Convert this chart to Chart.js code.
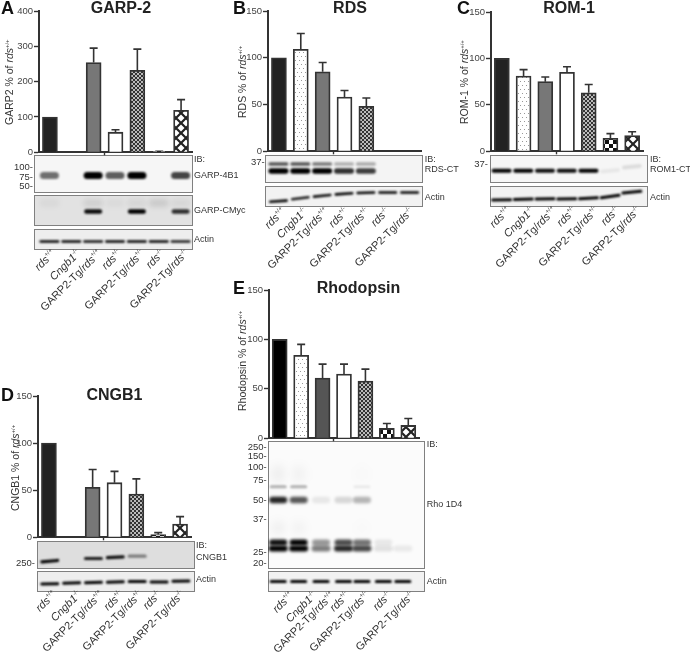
<!DOCTYPE html>
<html>
<head>
<meta charset="utf-8">
<script src="https://cdn.jsdelivr.net/npm/chart.js@4"></script>
<style>
  html, body { margin: 0; background: #fff; }
  #page { position: relative; width: 690px; height: 652px; overflow: hidden; font-family: "Liberation Sans", Arial, sans-serif; color: #333; filter: blur(0.35px); }
  #page canvas, .blot, .txt { position: absolute; }
  .txt { white-space: nowrap; line-height: 1; }
  .txt sup { font-size: 56%; line-height: 0; }
  .blot { box-sizing: border-box; border: 1.5px solid #808080; }
</style>
</head>
<body>
<div id="page"></div>
<script>
// categories, same order in every panel
let categories = ["rds+/+", "Cngb1-/-", "GARP2-Tg/rds+/+", "rds+/-", "GARP2-Tg/rds+/-", "rds-/-", "GARP2-Tg/rds-/-"];

// bar heights and top of error bars
let garp2Values = [100, 0, 254, 57, 232, 2, 119];
let garp2Err = [null, null, 295, 64, 292, 3, 149];
let garp2Ticks = [0, 100, 200, 300, 400];

let rdsValues = [100, 109, 85, 58, 48, 0, 0];
let rdsErr = [null, 126, 95, 65, 57, null, null];
let rdsTicks = [0, 50, 100, 150];

let rom1Values = [100, 81, 75, 85, 63, 14, 17];
let rom1Err = [null, 88, 80, 91, 72, 19, 21];
let rom1Ticks = [0, 50, 100, 150];

let cngb1Values = [100, 0, 53, 58, 46, 3, 14];
let cngb1Err = [null, null, 72, 70, 62, 5, 22];
let cngb1Ticks = [0, 50, 100, 150];

let rhoValues = [100, 84, 61, 65, 58, 10, 13];
let rhoErr = [null, 95, 75, 75, 70, 15, 20];
let rhoTicks = [0, 50, 100, 150];

// band darkness per lane on the blots
let garp4b1Bands = [0.55, 0, 1, 0.62, 1, 0, 0.72];
let garpCmycBands = [0, 0, 0.95, 0, 1, 0, 0.8];
let garpCmycFaint = [0.04, 0, 0.08, 0.03, 0.05, 0.1, 0.05];
let garpActinBands = [1, 1, 0.95, 1, 1, 1, 0.9];
let rdsUpperBands = [0.65, 0.65, 0.5, 0.28, 0.3, 0, 0];
let rdsLowerBands = [1, 1, 1, 0.8, 0.75, 0, 0];
let rdsActinBands = [1, 0.9, 0.95, 1, 1, 1, 1];
let rom1Bands = [1, 1, 0.95, 0.95, 1, 0.06, 0.1];
let rom1ActinBands = [1, 1, 1, 1, 1, 1, 1];
let cngb1Bands = [1, 0, 0.9, 0.95, 0.45, 0, 0];
let cngb1ActinBands = [1, 1, 1, 1, 1, 1, 1];
let rhoSmear = [0.05, 0.04, 0, 0, 0.01, 0, 0];
let rho75Bands = [0.3, 0.3, 0, 0, 0.07, 0, 0];
let rho50Bands = [0.85, 0.65, 0.08, 0.14, 0.28, 0, 0];
let rho30Bands = [0.95, 1, 0.4, 0.7, 0.55, 0.08, 0];
let rho25Bands = [1, 1, 0.5, 0.85, 0.72, 0.1, 0.07];
let rhoActinBands = [1, 1, 1, 1, 1, 1, 1];

let page = document.getElementById("page");

function addText(html, x, y, style, transform) {
  let el = document.createElement("div");
  el.className = "txt";
  el.innerHTML = html;
  el.style.cssText = "left:" + x + "px;top:" + y + "px;" + (style || "");
  if (transform) el.style.transform = transform;
  page.appendChild(el);
  return el;
}

// italic gene name, superscript genotype
function genotype(label) {
  let m = label.match(/^(.*?)(rds|Cngb1)(.*)$/);
  return m[1] + "<i>" + m[2] + "</i><sup>" + m[3] + "</sup>";
}

function makePattern(size, draw) {
  let tile = document.createElement("canvas");
  tile.width = size;
  tile.height = size;
  draw(tile.getContext("2d"));
  return tile.getContext("2d").createPattern(tile, "repeat");
}

let dots = makePattern(8, function (c) {
  c.fillStyle = "#fff"; c.fillRect(0, 0, 8, 8);
  c.fillStyle = "#999";
  c.fillRect(1, 1, 1, 1); c.fillRect(5, 1, 1, 1);
  c.fillRect(3, 5, 1, 1); c.fillRect(7, 5, 1, 1);
});
let dense = makePattern(4, function (c) {
  c.fillStyle = "#bbb"; c.fillRect(0, 0, 4, 4);
  c.fillStyle = "#333"; c.fillRect(0, 0, 2, 2); c.fillRect(2, 2, 2, 2);
});
let checker = makePattern(8, function (c) {
  c.fillStyle = "#fff"; c.fillRect(0, 0, 8, 8);
  c.fillStyle = "#111"; c.fillRect(0, 0, 4, 4); c.fillRect(4, 4, 4, 4);
});
let diamond = makePattern(10, function (c) {
  c.fillStyle = "#fff"; c.fillRect(0, 0, 10, 10);
  c.strokeStyle = "#222"; c.lineWidth = 2.2;
  c.beginPath();
  c.moveTo(-1, -1); c.lineTo(11, 11);
  c.moveTo(11, -1); c.lineTo(-1, 11);
  c.stroke();
});

// error bars go up from the bar top only
let errorBars = {
  id: "errorBars",
  beforeDatasetsDraw: function (chart) {
    let ds = chart.data.datasets[0];
    let bars = chart.getDatasetMeta(0).data;
    let y = chart.scales.y;
    let ctx = chart.ctx;
    ctx.save();
    ctx.strokeStyle = "#333";
    ctx.lineWidth = 1.6;
    ds.errTop.forEach(function (top, i) {
      if (top === null) return;
      let px = bars[i].x;
      let py = y.getPixelForValue(top);
      ctx.beginPath();
      ctx.moveTo(px, y.getPixelForValue(ds.data[i]));
      ctx.lineTo(px, py);
      ctx.moveTo(px - 4, py);
      ctx.lineTo(px + 4, py);
      ctx.stroke();
    });
    ctx.restore();
  },
};

function makeChart(p) {
  let left = p.x0 - 38;
  let top = p.yTop - 8;
  let canvas = document.createElement("canvas");
  canvas.width = p.x1 - left + 2;
  canvas.height = p.y0 - top + 6;
  canvas.style.left = left + "px";
  canvas.style.top = top + "px";
  canvas.style.zIndex = 2;
  page.appendChild(canvas);

  let chart = new Chart(canvas.getContext("2d"), {
    type: "bar",
    data: {
      labels: categories,
      datasets: [
        {
          data: p.values,
          errTop: p.err,
          backgroundColor: p.fills,
          borderColor: "#333",
          borderWidth: 1.8,
          barThickness: 15,
        },
      ],
    },
    options: {
      responsive: false,
      animation: false,
      layout: { padding: { top: 8, right: 2, left: 0, bottom: 0 } },
      plugins: { legend: { display: false }, tooltip: { enabled: false } },
      scales: {
        x: {
          afterFit: function (s) { s.height = 6; },
          ticks: { display: false },
          // the original only has one tick, below the middle lane
          grid: {
            drawOnChartArea: false,
            tickLength: 3,
            tickWidth: 1.4,
            tickColor: function (c) { return c.index === 3 ? "#333" : "rgba(0,0,0,0)"; },
          },
          border: { color: "#333", width: 2 },
        },
        y: {
          min: 0,
          max: p.ticks[p.ticks.length - 1],
          afterFit: function (s) { s.width = 38; },
          ticks: {
            stepSize: p.ticks[1],
            color: "#444",
            padding: 1,
            font: { family: "Liberation Sans", size: 9.5 },
          },
          grid: { drawOnChartArea: false, tickLength: 5, tickWidth: 1.4, tickColor: "#333" },
          border: { color: "#333", width: 2 },
        },
      },
    },
    plugins: [errorBars],
  });
  chart.pageLeft = left;
  return chart;
}

// lanes follow the chart's own x scale, a small shift per lane where the gel ran off
function drawBlot(chart, x, y, w, h, bg, bands) {
  let frame = document.createElement("div");
  frame.className = "blot";
  frame.style.cssText = "left:" + x + "px;top:" + y + "px;width:" + w + "px;height:" + h + "px;background:" + bg;
  page.appendChild(frame);

  let canvas = document.createElement("canvas");
  canvas.width = w;
  canvas.height = h;
  canvas.style.left = x + "px";
  canvas.style.top = y + "px";
  page.appendChild(canvas);
  let ctx = canvas.getContext("2d");
  let pitch = chart.scales.x.getPixelForValue(1) - chart.scales.x.getPixelForValue(0);

  bands.forEach(function (b) {
    ctx.filter = "blur(" + (b.blur || 1.1) + "px)";
    b.v.forEach(function (dark, i) {
      if (dark === 0) return;
      let cx = chart.scales.x.getPixelForValue(i) + chart.pageLeft - x + (b.shift ? b.shift[i] : 0);
      let cy = b.y - y + (b.dy ? b.dy[i] : 0);
      // slanted gels: lean each band towards its neighbour
      let lean = 0;
      if (b.dy) {
        let a = b.dy[Math.max(i - 1, 0)];
        let c = b.dy[Math.min(i + 1, 6)];
        lean = Math.atan((c - a) / (2 * pitch));
      }
      ctx.save();
      ctx.translate(cx, cy);
      ctx.rotate(lean);
      ctx.globalAlpha = dark;
      ctx.fillStyle = "#000";
      ctx.beginPath();
      ctx.roundRect(-b.w / 2, -b.h / 2, b.w, b.h, b.h / 2);
      ctx.fill();
      ctx.restore();
    });
  });
}

let panels = {
  garp2: { x0: 38.5, x1: 192, yTop: 10.7, y0: 153, values: garp2Values, err: garp2Err, ticks: garp2Ticks,
    fills: ["#222", dots, "#777", "#fff", dense, checker, diamond] },
  rds: { x0: 267.5, x1: 420.5, yTop: 11.3, y0: 152.7, values: rdsValues, err: rdsErr, ticks: rdsTicks,
    fills: ["#222", dots, "#777", "#fff", dense, checker, diamond] },
  rom1: { x0: 490.7, x1: 643.5, yTop: 12, y0: 152.7, values: rom1Values, err: rom1Err, ticks: rom1Ticks,
    fills: ["#222", dots, "#777", "#fff", dense, checker, diamond] },
  cngb1: { x0: 38.3, x1: 191.5, yTop: 396, y0: 538.3, values: cngb1Values, err: cngb1Err, ticks: cngb1Ticks,
    fills: ["#222", dots, "#777", "#fff", dense, checker, diamond] },
  rho: { x0: 269, x1: 419.5, yTop: 290, y0: 439.3, values: rhoValues, err: rhoErr, ticks: rhoTicks,
    fills: ["#000", dots, "#555", "#fff", dense, checker, diamond] },
};

let garp2Chart = makeChart(panels.garp2);
let rdsChart = makeChart(panels.rds);
let rom1Chart = makeChart(panels.rom1);
let cngb1Chart = makeChart(panels.cngb1);
let rhoChart = makeChart(panels.rho);

// blots
drawBlot(garp2Chart, 34, 155, 159, 38, "#f6f6f6", [{ y: 175.5, h: 7, w: 19, v: garp4b1Bands, blur: 1.2 }]);
drawBlot(garp2Chart, 34, 195, 159, 31, "#e2e2e2", [
  { y: 203, h: 8, w: 20, v: garpCmycFaint, blur: 2.5 },
  { y: 211.5, h: 4.5, w: 18, v: garpCmycBands },
]);
drawBlot(garp2Chart, 34, 228.5, 159, 21, "#eeeeee", [{ y: 241, h: 2.6, w: 20, v: garpActinBands, blur: 0.8 }]);

drawBlot(rdsChart, 265, 155, 158, 27.5, "#f4f4f4", [
  { y: 164, h: 3.5, w: 20, v: rdsUpperBands },
  { y: 171, h: 5.5, w: 20, v: rdsLowerBands },
]);
drawBlot(rdsChart, 265, 185.5, 158, 21, "#f2f2f2", [
  { y: 192, h: 2.6, w: 19, v: rdsActinBands, dy: [8.7, 5.7, 3.3, 1.3, 0.3, 0, 0], blur: 0.8 },
]);

drawBlot(rom1Chart, 490, 155, 157.5, 27.5, "#f6f6f6", [
  { y: 170.7, h: 4, w: 20, v: rom1Bands, dy: [0, 0, 0, 0, 0, 0, -4], blur: 1 },
]);
drawBlot(rom1Chart, 490, 185.5, 157.5, 21, "#f2f2f2", [
  { y: 198, h: 3, w: 21, v: rom1ActinBands, dy: [1.3, 0.7, 0.3, 0.3, -0.3, -2, -6.3], blur: 0.8 },
]);

drawBlot(cngb1Chart, 36.5, 540.5, 158.5, 28.5, "#dedede", [
  { y: 556.7, h: 3.2, w: 19, v: cngb1Bands, dy: [4, 0, 1.3, 0, -1, 0, 0], blur: 0.9 },
]);
drawBlot(cngb1Chart, 36.5, 570.5, 158.5, 21, "#eeeeee", [
  { y: 581.5, h: 3, w: 19, v: cngb1ActinBands, dy: [1.8, 1, 0.5, 0, -0.5, 0, -0.8], blur: 0.8 },
]);

let rhoShift = [-2, -3, -2, -1, -4, -4, -6];
drawBlot(rhoChart, 267.5, 441, 157.5, 127.5, "#fbfbfb", [
  { y: 474, h: 18, w: 14, v: rhoSmear, shift: rhoShift, blur: 5 },
  { y: 528, h: 14, w: 14, v: rhoSmear, shift: rhoShift, blur: 5 },
  { y: 486.7, h: 3, w: 17, v: rho75Bands, shift: rhoShift },
  { y: 500, h: 6.5, w: 18, v: rho50Bands, shift: rhoShift, blur: 1.8 },
  { y: 542.5, h: 6, w: 18, v: rho30Bands, shift: rhoShift, blur: 1.6 },
  { y: 548.5, h: 6, w: 19, v: rho25Bands, shift: rhoShift, blur: 1.6 },
]);
drawBlot(rhoChart, 267.5, 570.5, 157.5, 21, "#f2f2f2", [
  { y: 581, h: 3, w: 17, v: rhoActinBands, shift: rhoShift, blur: 0.8 },
]);

// panel letters and titles
[["A", 1, 8], ["B", 233, 8], ["C", 457, 8], ["D", 1, 395], ["E", 233, 288]].forEach(function (l) {
  addText(l[0], l[1], l[2], "font:bold 18px 'Liberation Sans';color:#111", "translateY(-50%)");
});
[["GARP-2", 121, 8], ["RDS", 350, 8], ["ROM-1", 569, 8], ["CNGB1", 114.5, 395], ["Rhodopsin", 358.5, 288]].forEach(function (l) {
  addText(l[0], l[1], l[2], "font:bold 16px 'Liberation Sans';color:#222", "translate(-50%,-50%)");
});

// y axis titles, rotated by hand because of the italic and superscript parts
[["GARP2 % of", 3.5, 125], ["RDS % of", 237, 118], ["ROM-1 % of", 459, 124], ["CNGB1 % of", 10, 511], ["Rhodopsin % of", 237, 411]].forEach(function (l) {
  let el = addText(l[0] + " <i>rds</i><sup>+/+</sup>", l[1], l[2], "font-size:10.5px;transform-origin:0 0;line-height:11px");
  el.style.transform = "rotate(-90deg)";
});

// lane labels, anchored at their top right end
let garp2Ends = [49, 74, 95, 115, 138, 158, 182];
let rdsEnds = [279, 301, 322, 342, 363, 383, 407];
let rom1Ends = [504, 528, 550, 570, 592, 613, 634];
let cngb1Ends = [50, 75, 97, 117, 136, 155, 178];
let rhoEnds = [287, 310, 328, 343, 363, 385, 408];
[[garp2Ends, 247], [rdsEnds, 205], [rom1Ends, 204], [cngb1Ends, 588], [rhoEnds, 589]].forEach(function (row) {
  row[0].forEach(function (x, i) {
    let el = addText(genotype(categories[i]), x, row[1], "font-size:11px;transform-origin:100% 0;line-height:12px");
    el.style.transform = "translate(-100%,0) rotate(-45deg)";
  });
});

// blot side labels
let sideStyle = "font-size:9px";
[
  ["IB:", 194, 158.7], ["GARP-4B1", 194, 175], ["GARP-CMyc", 194, 210], ["Actin", 194, 239.3],
  ["IB:", 424.7, 158.7], ["RDS-CT", 424.7, 169.3], ["Actin", 424.7, 196.7],
  ["IB:", 650, 158.7], ["ROM1-CT", 650, 169.3], ["Actin", 650, 196.7],
  ["IB:", 196, 545.3], ["CNGB1", 196, 556.7], ["Actin", 196, 579.3],
  ["IB:", 426.7, 444], ["Rho 1D4", 426.7, 504.3], ["Actin", 426.7, 581],
].forEach(function (l) {
  addText(l[0], l[1], l[2], sideStyle, "translateY(-50%)");
});

// molecular weight markers
[
  ["100-", 33, 167], ["75-", 33, 177], ["50-", 33, 186],
  ["37-", 264.7, 161.7], ["37-", 488, 164], ["250-", 35, 563],
  ["250-", 266.7, 446.7], ["150-", 266.7, 455.7], ["100-", 266.7, 467], ["75-", 266.7, 480.3],
  ["50-", 266.7, 500], ["37-", 266.7, 519], ["25-", 266.7, 552.3], ["20-", 266.7, 563.3],
].forEach(function (l) {
  addText(l[0], l[1], l[2], "font-size:9.5px", "translate(-100%,-50%)");
});
</script>
</body>
</html>
